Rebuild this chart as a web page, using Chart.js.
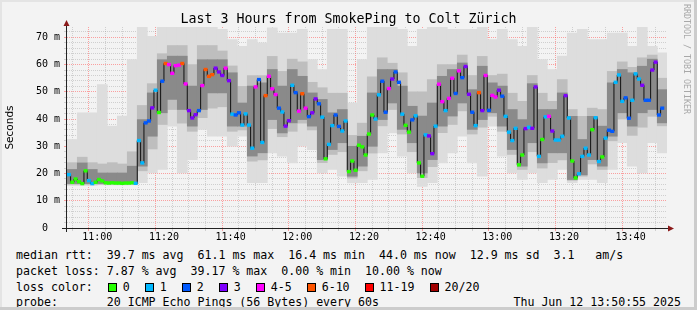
<!DOCTYPE html>
<html>
<head>
<meta charset="utf-8">
<script src="https://cdn.jsdelivr.net/npm/chart.js@4.4.1/dist/chart.umd.min.js"></script>
<style>
  html, body { margin: 0; padding: 0; }
  body { width: 697px; height: 310px; background: #f3f3f3; position: relative; overflow: hidden;
         font-family: "DejaVu Sans Mono", monospace; color: #000; }
  #chart { position: absolute; left: 0; top: 0; }
  .title { position: absolute; left: 0; top: 11px; width: 697px; text-align: center; font-size: 13.3px; line-height: 16px; white-space: pre; }
  .row { position: absolute; left: 16px; font-size: 11.6px; line-height: 14px; white-space: pre; }
  .stamp { position: absolute; right: 16px; top: 295px; font-size: 11.6px; line-height: 14px; white-space: pre; }
  .mark { position: absolute; left: 682px; top: 4px; writing-mode: vertical-rl; font-size: 8.3px; color: #a8a8a8; white-space: pre; }
  .sw { display: inline-block; width: 7px; height: 7px; border: 1px solid #000; vertical-align: -1px; margin-right: 6px; }
  .lab { margin-right: 15px; }
  .edge { position: absolute; }
</style>
</head>
<body>
<canvas id="chart" width="697" height="245"></canvas>
<div class="title">Last 3 Hours from SmokePing to Colt Zürich</div>
<div class="mark">RRDTOOL / TOBI OETIKER</div>
<div class="row" style="top:248px">median rtt:  39.7 ms avg  61.1 ms max  16.4 ms min  44.0 ms now  12.9 ms sd  3.1   am/s</div>
<div class="row" style="top:264px">packet loss: 7.87 % avg  39.17 % max  0.00 % min  10.00 % now</div>
<div class="row" id="lossRow" style="top:280px">loss color:</div>
<div class="row" style="top:295px">probe:       20 ICMP Echo Pings (56 Bytes) every 60s</div>
<div class="stamp">Thu Jun 12 13:50:55 2025</div>
<div class="edge" style="left:0;top:0;width:697px;height:2px;background:#e4e4e4"></div>
<div class="edge" style="left:0;top:0;width:2px;height:310px;background:#e4e4e4"></div>
<div class="edge" style="left:694px;top:0;width:3px;height:310px;background:#cccccc"></div>
<div class="edge" style="left:0;top:307px;width:697px;height:3px;background:#cccccc"></div>
<script>
// time axis in minutes since midnight
const startMin = 650 + 55 / 60;          // 10:50:55
const endMin = startMin + 180;            // 13:50:55
const firstStep = 651;                    // first 60 s step starts 10:51

// median rtt per 60 s step (ms)
const median = [
  19.6,16.8,18.0,17.0,16.3,21.0,17.4,16.3,16.8,17.8,
  17.3,16.6,16.5,16.6,16.5,16.5,16.4,16.5,16.5,16.6,
  16.4,32.1,23.9,38.6,39.3,44.1,50.6,42.4,53.9,60.4,
  60.0,56.8,59.6,59.8,60.4,52.9,43.1,40.4,41.6,43.1,
  52.3,58.2,55.7,56.3,58.7,57.3,56.0,58.7,54.1,41.8,
  41.5,42.3,37.8,41.9,37.8,29.3,51.8,54.5,31.4,48.6,
  55.7,51.1,49.0,44.0,42.6,37.4,39.4,52.4,49.7,42.9,
  49.3,44.0,40.9,42.3,47.4,45.6,40.7,25.4,30.7,37.6,
  41.5,37.3,35.6,39.3,20.7,24.6,21.2,30.4,29.8,26.8,
  34.5,41.5,40.0,48.9,53.9,42.5,51.2,54.7,57.3,53.5,
  41.8,37.7,35.2,39.7,41.2,23.9,19.0,34.2,33.8,27.3,
  37.4,52.8,46.4,43.1,47.6,55.0,49.4,57.7,55.2,59.3,
  49.1,42.5,37.6,49.7,43.1,56.0,43.2,48.7,48.1,50.6,
  48.4,41.0,35.2,32.1,36.6,23.2,26.8,36.5,37.0,36.6,
  51.8,26.3,32.5,40.8,41.0,35.6,32.3,32.3,33.7,48.6,
  40.4,24.6,18.4,19.9,26.3,29.3,26.8,36.1,40.5,24.4,
  26.1,33.0,35.9,35.5,53.5,56.2,46.5,47.8,40.3,46.9,
  56.6,54.7,52.4,46.9,46.9,58.0,60.9,41.5,44.0,null
];

// loss class per step (index into lossLabels)
const loss = [
  1,0,0,0,0,0,1,1,0,0, 0,0,0,0,0,0,0,0,0,0,
  1,1,1,2,2,3,1,0,2,5, 4,4,4,4,5,4,3,3,3,2,
  4,5,5,5,3,3,3,4,3,1, 2,2,1,1,1,1,4,2,1,5,
  4,4,4,2,1,3,3,1,2,4, 5,4,2,3,3,2,1,0,1,1,
  2,2,1,1,0,0,0,0,0,0, 0,0,1,1,2,2,4,3,2,2,
  1,0,0,2,1,0,0,1,3,3, 1,4,4,1,4,4,2,4,2,3,
  3,2,1,5,3,4,2,4,4,3, 2,1,1,1,1,0,0,3,1,3,
  3,1,0,1,4,3,1,1,1,3, 1,0,0,1,1,1,1,0,1,1,
  0,1,2,2,1,1,1,2,2,1, 1,1,3,2,2,3,3,2,2,0
];

const lossLabels = ["0", "1", "2", "3", "4-5", "6-10", "11-19", "20/20"];
const lossColors = ["#26ff00", "#00b8ff", "#0059ff", "#7e00ff", "#ff00ff", "#ff5500", "#ff0000", "#a10000"];

// smoke, one value per 3 minutes (ms)
const lightLo = [15.6,15.6,15.6,15.8,15.8,15.8,15.8,16.6,20.2,21.5,37.4,20.2,
  25.1,36.2,33.7,33.7,30.0,33.7,16.6,16.6,27.6,26.4,23.9,30.0,
  28.8,20.2,21.5,19.0,16.6,16.6,17.8,27.6,34.9,26.4,20.2,15.3,
  16.6,23.9,27.6,33.7,23.9,19.0,37.4,26.4,20.2,17.8,20.2,16.6,
  17.8,21.5,16.6,17.8,17.8,16.6,21.5,31.3,22.7,20.2,31.3,27.6];
const lightHi = [32.5,42.3,42.3,52.7,37.4,41.1,61.8,74,70.4,74,74,74,
  74,74,74,72.9,69.2,66.7,69.2,68.0,73.5,71.6,71.6,72.9,
  61.8,58.2,72.9,72.9,45.9,61.8,74,74,74,72.9,66.7,72.9,
  74,74,72.9,72.9,72.9,74,69.2,72.9,69.2,66.7,74,61.8,
  58.2,63.1,71.6,72.9,69.2,69.2,71.6,71.6,66.7,74,66.7,64.3];
const midLo = [16.0,16.0,16.0,16.0,16.0,16.0,16.0,21.0,29.0,38.0,43.5,38.5,
  35.5,40.5,44.0,44.5,35.5,36.0,24.5,25.0,36.5,33.5,35.5,38.5,
  36.0,24.0,27.0,28.0,18.3,21.0,27.5,37.5,43.5,34.5,28.0,18.5,
  22.5,35.0,38.0,43.0,34.5,37.0,41.0,35.5,27.0,21.5,28.0,22.0,
  24.0,25.0,17.5,19.0,23.5,21.5,32.0,40.0,34.0,37.0,41.0,37.5];
const midHi = [24.0,26.0,24.0,23.5,24.0,23.5,28.0,45.0,53.0,64.0,67.0,67.0,
  60.0,67.0,67.0,65.0,59.5,52.0,56.0,56.0,63.0,57.5,62.0,61.0,
  53.5,51.5,49.5,49.5,34.0,38.5,55.5,62.5,60.5,57.0,50.0,50.0,
  54.5,60.0,60.0,63.5,56.0,63.0,56.0,56.5,49.5,46.5,56.0,49.5,
  46.5,54.5,43.5,41.0,44.0,43.5,57.5,61.0,59.0,62.5,63.5,55.0];
const darkLo = [16.3,16.3,16.3,16.3,16.3,16.3,16.3,22.7,33.7,42.3,47.2,43.5,
  37.4,43.5,49.6,49.6,37.4,37.4,26.4,27.6,39.8,34.9,38.6,39.8,
  37.4,25.1,28.8,31.3,19.0,22.7,30.0,39.8,45.9,36.2,31.3,20.2,
  25.1,37.4,41.1,45.9,36.2,39.8,42.3,37.4,28.8,22.7,31.3,23.9,
  27.6,27.6,17.8,19.5,25.1,22.7,33.7,42.3,37.4,42.3,43.5,38.6];
const darkHi = [21.5,23.9,21.5,20.2,20.2,20.2,22.7,39.8,49.6,61.8,63.1,63.1,
  52.1,61.8,61.8,61.8,57.0,45.9,52.1,53.3,58.2,52.1,58.2,55.7,
  49.6,47.2,42.3,43.5,30.0,33.7,49.6,58.2,58.2,52.1,44.7,41.1,
  45.9,55.7,58.2,60.6,50.8,59.4,53.3,52.1,43.5,39.8,53.0,43.5,
  43.5,49.6,41.0,32.5,41.0,37.4,53.3,58.2,57.0,59.4,62.0,50.8];

// legend swatches
const lossRow = document.getElementById("lossRow");
lossLabels.forEach((lab, i) => {
  const sw = document.createElement("span");
  sw.className = "sw";
  sw.style.background = lossColors[i];
  if (i === 0) sw.style.marginLeft = "15px";
  const t = document.createElement("span");
  t.className = "lab";
  t.textContent = lab;
  lossRow.appendChild(sw);
  lossRow.appendChild(t);
});

const stepPts = median.map((m, i) => ({ x: firstStep + i + 0.5, y: m }));
const markPts = [], markCols = [];
median.forEach((m, i) => {
  if (m === null) return;
  markPts.push({ x: firstStep + i + 0.5, y: [m - 0.5, m + 0.5] });
  markCols.push(lossColors[loss[i]]);
});
const band = (lo, hi) => lo.map((v, g) => ({ x: firstStep + g * 3 + 1.5, y: [v, hi[g]] }));

const barOpts = { grouped: false, barPercentage: 1, categoryPercentage: 1, borderWidth: 0 };
const majorC = "rgba(255, 90, 90, 0.55)";
const minorC = "rgba(140, 140, 140, 0.35)";
const hhmm = v => Math.floor(v / 60) + ":" + String(v % 60).padStart(2, "0");

const axesPlugin = {
  id: "rrdAxes",
  afterDraw(chart) {
    const { ctx, chartArea: a } = chart;
    ctx.save();
    ctx.strokeStyle = "#222";
    ctx.lineWidth = 1;
    ctx.beginPath();
    ctx.moveTo(a.left - 0.5, a.bottom + 4);
    ctx.lineTo(a.left - 0.5, a.top - 2);
    ctx.moveTo(a.left - 5, a.bottom + 0.5);
    ctx.lineTo(a.right + 1, a.bottom + 0.5);
    ctx.stroke();
    ctx.fillStyle = "#8b1a1a";
    ctx.beginPath();
    ctx.moveTo(a.left - 3.5, a.top - 1);
    ctx.lineTo(a.left + 2.5, a.top - 1);
    ctx.lineTo(a.left - 0.5, a.top - 7);
    ctx.closePath();
    ctx.fill();
    ctx.beginPath();
    ctx.moveTo(a.right + 1, a.bottom - 2.5);
    ctx.lineTo(a.right + 1, a.bottom + 3.5);
    ctx.lineTo(a.right + 7, a.bottom + 0.5);
    ctx.closePath();
    ctx.fill();
    ctx.restore();
  }
};

Chart.defaults.font.family = "'DejaVu Sans Mono', monospace";
Chart.defaults.color = "#000";

new Chart(document.getElementById("chart").getContext("2d"), {
  type: "bar",
  data: {
    datasets: [
      { label: "loss", data: markPts, backgroundColor: markCols, xAxisID: "x", ...barOpts },
      { type: "line", label: "median", data: stepPts, xAxisID: "x", stepped: "middle",
        borderColor: "#111", borderWidth: 1, pointRadius: 0, fill: false },
      { label: "dark", data: band(darkLo, darkHi), backgroundColor: "#8a8a8a", xAxisID: "xs", ...barOpts },
      { label: "mid", data: band(midLo, midHi), backgroundColor: "#bebebe", xAxisID: "xs", ...barOpts },
      { label: "light", data: band(lightLo, lightHi), backgroundColor: "#dddddd", xAxisID: "xs", ...barOpts }
    ]
  },
  options: {
    responsive: false,
    animation: false,
    devicePixelRatio: 1,
    layout: { padding: { top: 27, right: 30, left: 0, bottom: 0 } },
    plugins: { legend: { display: false }, tooltip: { enabled: false } },
    scales: {
      x: {
        type: "linear", min: startMin, max: endMin, offset: false, z: 1,
        afterFit: s => { s.height = 17; },
        afterBuildTicks: s => {
          const t = [];
          for (let v = Math.ceil(startMin / 5) * 5; v <= endMin; v += 5) t.push({ value: v });
          s.ticks = t;
        },
        ticks: { autoSkip: false, maxRotation: 0, padding: 0, font: { size: 10 },
                 callback: v => (v % 20 === 0 ? hhmm(v) : "") },
        grid: { color: c => (c.tick && c.tick.value % 20 === 0 ? majorC : minorC), tickLength: 3 },
        border: { display: false, dash: [1, 1] }
      },
      xs: { type: "linear", min: startMin, max: endMin, offset: false, display: false },
      y: {
        min: 0, max: 73.8, z: 1,
        afterFit: s => { s.width = 67; },
        afterBuildTicks: s => {
          const t = [];
          for (let v = 0; v <= 72; v += 2) t.push({ value: v });
          s.ticks = t;
        },
        ticks: { autoSkip: false, padding: 4, font: { size: 10 },
                 callback: v => (v % 10 === 0 ? (v === 0 ? "0  " : v + " m") : "") },
        grid: { color: c => (c.tick && c.tick.value % 10 === 0 ? majorC : minorC), tickLength: 3 },
        border: { display: false, dash: [1, 1] },
        title: { display: true, text: "Seconds", font: { family: "'DejaVu Sans', sans-serif", size: 10.5 },
                 padding: { top: 4, bottom: 0 } }
      }
    }
  },
  plugins: [axesPlugin]
});
</script>
</body>
</html>
